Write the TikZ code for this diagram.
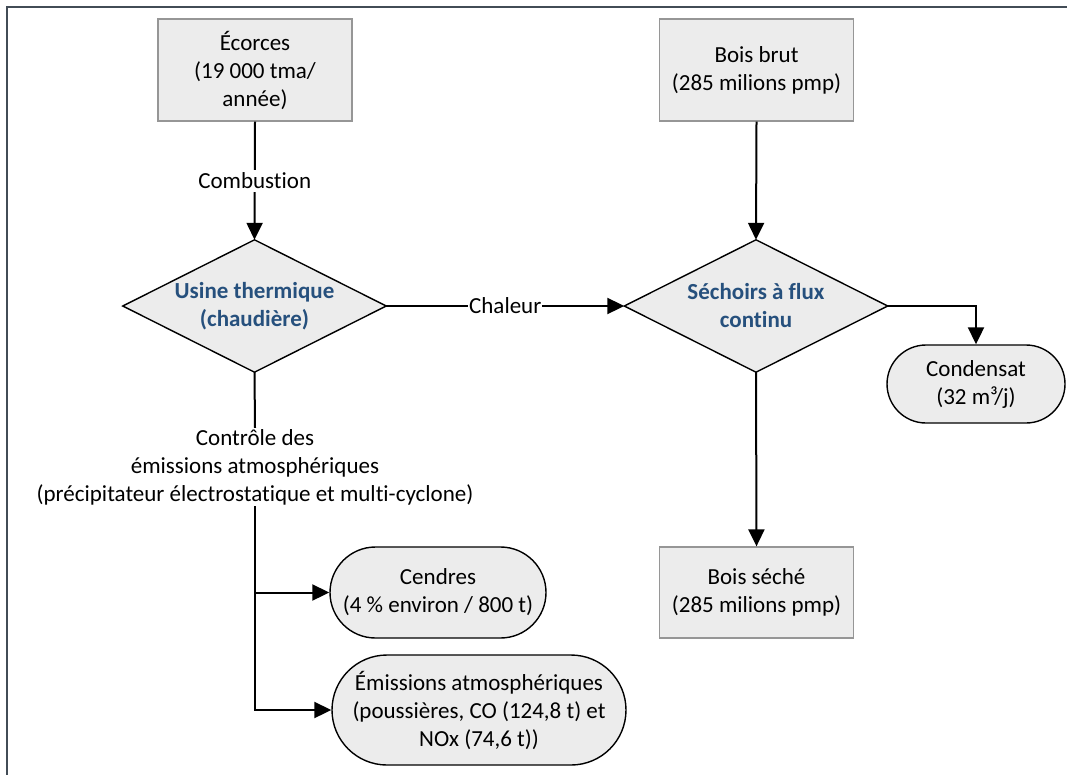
\documentclass[tikz,border=0pt]{standalone}
\usepackage{fontspec}
\setmainfont{Carlito}[Ligatures=NoCommon]
\usetikzlibrary{arrows.meta,shapes.misc}
\definecolor{boxfill}{RGB}{236,236,236}
\definecolor{boxline}{RGB}{150,150,150}
\definecolor{titleblue}{RGB}{38,80,125}
\definecolor{framecol}{RGB}{66,76,86}
\begin{document}
\begin{tikzpicture}[x=1pt,y=-1pt,
  every node/.style={font=\fontsize{23}{28}\selectfont, align=center},
  srcbox/.style={rectangle, draw=boxline, line width=1.3pt, fill=boxfill, inner sep=0pt, minimum width=194pt},
  decisionframe/.style={rectangle, inner sep=0pt, minimum width=263pt, minimum height=132pt},
  decisionshape/.style={draw=black, line width=1.4pt, fill=boxfill, line join=miter},
  decisiontext/.style={text=titleblue, font=\bfseries\fontsize{23}{28}\selectfont, inner sep=0pt},
  outcome/.style={rounded rectangle, draw=black, line width=1.4pt, fill=boxfill, inner sep=0pt},
  flow/.style={line width=2pt, -{Triangle[length=17pt,width=16pt]}},
  plain/.style={line width=2pt},
  frameline/.style={draw=framecol, line width=2.2pt}
]
\useasboundingbox (0,0) rectangle (1067,774);
\draw[frameline] (7,780) -- (7,7) -- (1075,7);

\node[srcbox, minimum height=102pt] (ecorces) at (255,70) {Écorces\\(19 000 tma/\\année)};
\node[srcbox, minimum height=102pt] (boisbrut) at (756.5,70) {Bois brut\\(285 milions pmp)};

\node[decisionframe] (usine) at (254.5,306) {};
\draw[decisionshape] (usine.north) -- (usine.east) -- (usine.south) -- (usine.west) -- cycle;
\node[decisiontext] (usinetext) at (usine.center) {Usine thermique\\(chaudière)};

\node[decisionframe] (sechoir) at (756,306) {};
\draw[decisionshape] (sechoir.north) -- (sechoir.east) -- (sechoir.south) -- (sechoir.west) -- cycle;
\node[decisiontext] (sechoirtext) at (sechoir.center) {Séchoirs à flux\\continu};

\node[outcome, minimum width=178pt, minimum height=78pt] (condensat) at (976,384) {Condensat\\(32 m³/j)};
\node[srcbox, minimum height=91pt] (boisseche) at (756.5,592.5) {Bois séché\\(285 milions pmp)};
\node[inner sep=1pt] (ctrl) at (255,467) {Contrôle des\\émissions atmosphériques\\(précipitateur électrostatique et multi-cyclone)};
\node[outcome, minimum width=216pt, minimum height=91pt] (cendres) at (438,592.5) {Cendres\\(4 \% environ / 800 t)};
\node[outcome, minimum width=294pt, minimum height=110pt] (emissions) at (479,710) {Émissions atmosphériques\\(poussières, CO (124,8 t) et\\NOx (74,6 t))};

\draw[flow] (ecorces.south) -- node[fill=white, inner sep=3pt] (lcomb) {Combustion} (usine.north);
\draw[flow] (boisbrut.south) -- (sechoir.north);
\draw[flow] (usine.east) -- node[fill=white, inner sep=1pt] (lchal) {Chaleur} (sechoir.west);
\draw[flow] (sechoir.east) -| (condensat.north);
\draw[flow] (sechoir.south) -- (boisseche.north);
\draw[plain] (usine.south) -- (ctrl.north);
\draw[flow] (ctrl.south) |- (emissions.west);
\coordinate (jcendres) at (ctrl.south |- cendres.west);
\draw[flow] (jcendres) -- (cendres.west);
\end{tikzpicture}
\end{document}
